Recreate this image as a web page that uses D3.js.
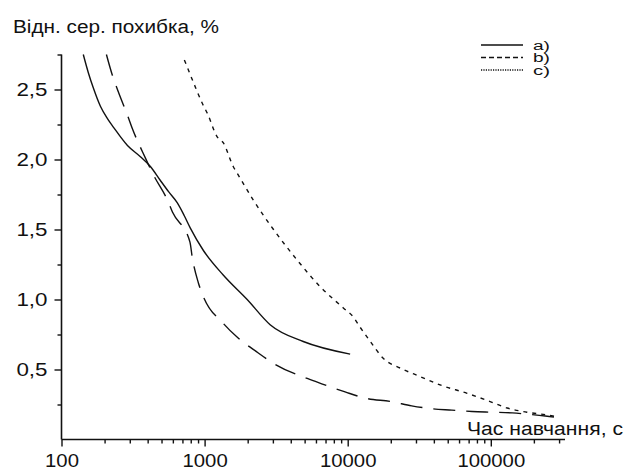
<!DOCTYPE html>
<html><head><meta charset="utf-8">
<script src="https://cdn.jsdelivr.net/npm/d3@7"></script>
<style>
html,body{margin:0;padding:0;background:#fff;}
svg text{font-family:"Liberation Sans",Arial,sans-serif;fill:#111;}
</style></head>
<body>
<svg id="chart" width="624" height="472"></svg>
<script>
// ---- data (time in seconds, relative mean error in %) ----
const seriesNames = ["a)", "b)", "c)"];
const timeA = [142, 154, 167, 187, 210, 231, 289, 356, 418, 491, 560, 645, 720, 795, 981, 1349, 1984, 2870, 4890, 10400];
const errA  = [2.75, 2.62, 2.51, 2.38, 2.29, 2.23, 2.10, 2.02, 1.95, 1.85, 1.77, 1.69, 1.60, 1.51, 1.35, 1.175, 1.0, 0.82, 0.70, 0.61];
const timeB = [206, 227, 242, 293, 313, 386, 439, 550, 596, 790, 820, 904, 981, 1349, 1693, 2360, 2960, 6130, 9590, 13300, 20300, 28000, 38700, 53500, 74000, 102000, 141000, 184000, 240000, 300000];
const errB  = [2.75, 2.60, 2.52, 2.30, 2.22, 2.01, 1.89, 1.71, 1.625, 1.41, 1.30, 1.12, 1.02, 0.83, 0.73, 0.62, 0.55, 0.41, 0.34, 0.295, 0.27, 0.24, 0.22, 0.21, 0.20, 0.195, 0.19, 0.18, 0.168, 0.155];
const timeC = [723, 836, 965, 1045, 1228, 1350, 1585, 1717, 2190, 3030, 4450, 6440, 9320, 10950, 12250, 14400, 17700, 23300, 32000, 44200, 68300, 94000, 130000, 179000, 247000, 296000];
const errC  = [2.71, 2.55, 2.40, 2.33, 2.16, 2.12, 1.95, 1.89, 1.71, 1.50, 1.28, 1.09, 0.94, 0.875, 0.80, 0.70, 0.58, 0.51, 0.45, 0.39, 0.33, 0.28, 0.225, 0.195, 0.175, 0.16];
const xMajorTicks = [100, 1000, 10000, 100000];
const xMinorTicks = [200,300,400,500,600,700,800,900,2000,3000,4000,5000,6000,7000,8000,9000,20000,30000,40000,50000,60000,70000,80000,90000,200000,300000];
const yMajorTicks = [0.5, 1.0, 1.5, 2.0, 2.5];
const yMinorTicks = [0.25, 0.75, 1.25, 1.75, 2.25, 2.75];
const yTitle = "Відн. сер. похибка, %";
const xTitle = "Час навчання, с";

// ---- layout ----
const svg = d3.select("#chart");
const x = d3.scaleLog().domain([100, 330000]).range([61.5, 565]);
const y = d3.scaleLinear().domain([0, 2.75]).range([439.5, 54.5]);
const fmtY = d => d.toFixed(1).replace(".", ",");
const labelWidth = s => s.replace(/[^0-9]/g, "").length * 11.3 + (s.includes(",") ? 8.5 : 0);

// axes
const gx = svg.append("g").attr("transform", "translate(0,439.5)");
gx.call(d3.axisBottom(x).tickValues(xMajorTicks).tickSize(7).tickPadding(8).tickFormat(d3.format("d")));
const gx2 = svg.append("g").attr("transform", "translate(0,439.5)");
gx2.call(d3.axisBottom(x).tickValues(xMinorTicks).tickSize(4).tickFormat(""));
gx2.select(".domain").remove();

const gy = svg.append("g").attr("transform", "translate(61.5,0)");
gy.call(d3.axisLeft(y).tickValues(yMajorTicks).tickSize(7).tickPadding(7).tickFormat(fmtY));
const gy2 = svg.append("g").attr("transform", "translate(61.5,0)");
gy2.call(d3.axisLeft(y).tickValues(yMinorTicks).tickSize(4).tickFormat(""));
gy2.select(".domain").remove();

svg.selectAll(".domain").attr("stroke", "#111").attr("stroke-width", 1.6);
svg.selectAll(".tick line").attr("stroke", "#111").attr("stroke-width", 1.4);
svg.selectAll(".tick text")
  .attr("font-size", 18).attr("font-family", "Liberation Sans, Arial, sans-serif").attr("fill", "#111")
  .attr("lengthAdjust", "spacingAndGlyphs")
  .attr("textLength", function() { return labelWidth(this.textContent); });
gy.selectAll(".domain").attr("d", `M0,${y(2.75)}V${y(0)}`);
gx.selectAll(".domain").attr("d", `M${x(100)},0H565`);

// titles
svg.append("text").attr("x", 13).attr("y", 33).attr("font-size", 18)
  .attr("textLength", 206).attr("lengthAdjust", "spacingAndGlyphs").text(yTitle);
svg.append("text").attr("x", 623).attr("y", 435).attr("text-anchor", "end").attr("font-size", 18)
  .attr("textLength", 156).attr("lengthAdjust", "spacingAndGlyphs").text(xTitle);

// series
const styles = [null, "22,11", "4,5"];
const data = [
  d3.zip(timeA, errA),
  d3.zip(timeB, errB),
  d3.zip(timeC, errC)
];
const line = d3.line().x(d => x(d[0])).y(d => y(d[1])).curve(d3.curveMonotoneX);
data.forEach((pts, i) => {
  const p = svg.append("path").datum(pts).attr("d", line)
    .attr("fill", "none").attr("stroke", "#111").attr("stroke-width", 1.4);
  if (styles[i]) p.attr("stroke-dasharray", styles[i]);
});

// legend
const legendDash = [null, "5,3", "1.2,1.2"];
const legendY = [45, 57.5, 70];
seriesNames.forEach((name, i) => {
  const l = svg.append("line").attr("x1", 481).attr("x2", 523).attr("y1", legendY[i]).attr("y2", legendY[i])
    .attr("stroke", "#111").attr("stroke-width", 1.4);
  if (legendDash[i]) l.attr("stroke-dasharray", legendDash[i]);
  svg.append("text").attr("x", 533).attr("y", legendY[i] + 4.5).attr("font-size", 12.5)
    .attr("textLength", 17).attr("lengthAdjust", "spacingAndGlyphs").text(name);
});
</script>
</body></html>
